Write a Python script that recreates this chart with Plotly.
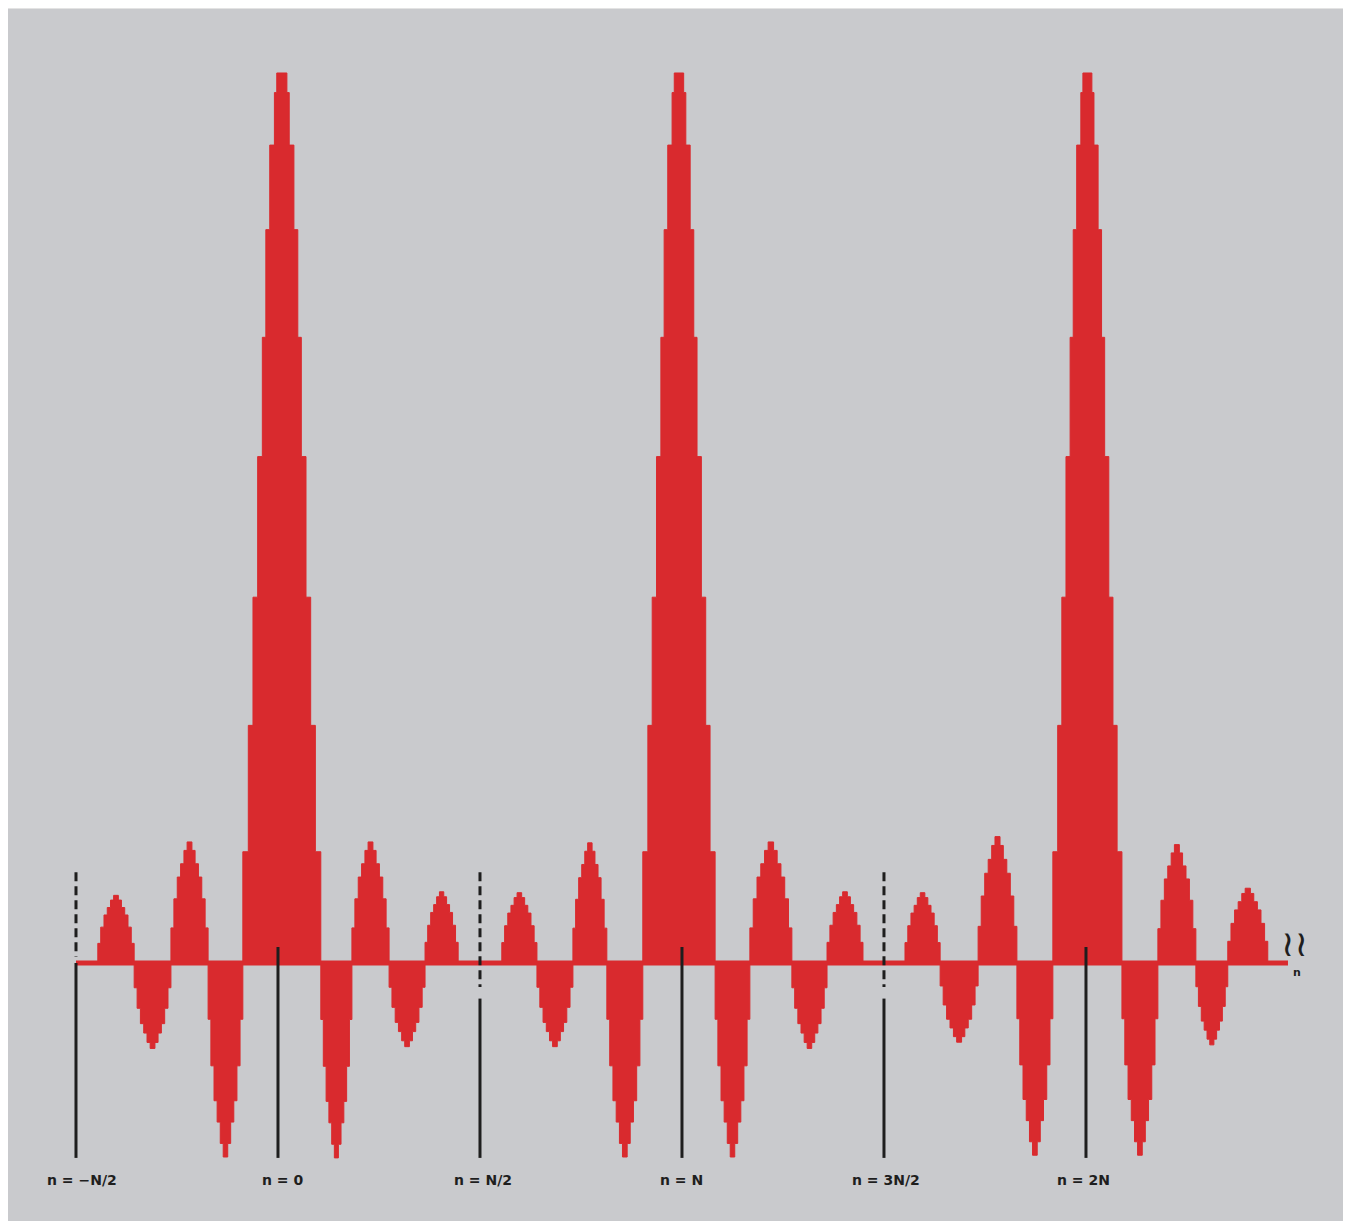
import plotly.graph_objects as go

# Lobes of the periodic (Dirichlet-like) sequence, left to right.
# Zero crossings in units of N, signed peak value (main lobe = 1)
lobe_left = [-0.446, -0.356, -0.265, -0.173, -0.087, 0.106, 0.183, 0.275, 0.364,
             0.554, 0.641, 0.730, 0.814, 0.903, 1.082, 1.168, 1.272, 1.359,
             1.552, 1.639, 1.733, 1.829, 1.918, 2.089, 2.178, 2.272, 2.351]
lobe_right = [-0.356, -0.265, -0.173, -0.087, 0.106, 0.183, 0.275, 0.364, 0.446,
              0.641, 0.730, 0.814, 0.903, 1.082, 1.168, 1.272, 1.359, 1.448,
              1.639, 1.733, 1.829, 1.918, 2.089, 2.178, 2.272, 2.351, 2.450]
lobe_peak = [0.076, -0.096, 0.136, -0.218, 1.0, -0.219, 0.136, -0.094, 0.080,
             0.079, -0.094, 0.135, -0.218, 1.0, -0.218, 0.136, -0.096, 0.080,
             0.079, -0.089, 0.142, -0.216, 1.0, -0.216, 0.133, -0.092, 0.084]

# stepped outline of a lobe: (height fraction, half-width fraction) per step
main_step_h = [0.125, 0.267, 0.411, 0.569, 0.703, 0.824, 0.919, 0.978, 1.0]
main_step_w = [1.0, 0.86, 0.74, 0.62, 0.50, 0.41, 0.31, 0.19, 0.13]
side_step_h = [0.29, 0.53, 0.71, 0.82, 0.93, 1.0]
side_step_w = [1.0, 0.84, 0.66, 0.48, 0.30, 0.13]

# marker lines
mark_n = [-0.5, 0.0, 0.5, 1.0, 1.5, 2.0]
mark_label = ["n = −N/2", "n = 0", "n = N/2", "n = N", "n = 3N/2", "n = 2N"]
mark_label_x = [-0.484, 0.012, 0.507, 1.0, 1.505, 1.993]
n_end = 2.5

RED = "#d92a2e"
INK = "#1e1e1e"
GRAY = "#c9cacd"


def stepped(l, r, amp, H, W):
    c = (l + r) / 2
    hw = (r - l) / 2
    left = []
    prev = 0.0
    for h, w in zip(H, W):
        x = c - hw * w
        left.append((x, prev * amp))
        left.append((x, h * amp))
        prev = h
    right = [(2 * c - x, y) for (x, y) in reversed(left)]
    pts = left + right
    return [p[0] for p in pts], [p[1] for p in pts]


xs, ys = [], []
for l, r, a in zip(lobe_left, lobe_right, lobe_peak):
    if abs(a) >= 0.99:
        px, py = stepped(l, r, a, main_step_h, main_step_w)
    else:
        px, py = stepped(l, r, a, side_step_h, side_step_w)
    xs += px + [px[0], None]
    ys += py + [py[0], None]

fig = go.Figure()
fig.add_trace(go.Scatter(x=xs, y=ys, mode="lines", fill="toself",
                         fillcolor=RED, line=dict(color=RED, width=1),
                         hoverinfo="skip"))

# baseline
fig.add_trace(go.Scatter(x=[mark_n[0], n_end], y=[0, 0], mode="lines",
                         line=dict(color=RED, width=5), hoverinfo="skip"))

# vertical marker lines
for i, n in enumerate(mark_n):
    if i % 2 == 0:
        # half-period markers: dashed above, solid below
        top_dash = 0.102
        if i == 0:
            fig.add_trace(go.Scatter(x=[n, n], y=[top_dash, 0.007], mode="lines",
                                     line=dict(color=INK, width=3, dash="9px,5px")))
            fig.add_trace(go.Scatter(x=[n, n], y=[0.0, -0.219], mode="lines",
                                     line=dict(color=INK, width=3)))
        else:
            fig.add_trace(go.Scatter(x=[n, n], y=[top_dash, -0.027], mode="lines",
                                     line=dict(color=INK, width=3, dash="9px,5px")))
            fig.add_trace(go.Scatter(x=[n, n], y=[-0.040, -0.219], mode="lines",
                                     line=dict(color=INK, width=3)))
    else:
        fig.add_trace(go.Scatter(x=[n, n], y=[0.018, -0.219], mode="lines",
                                 line=dict(color=INK, width=3)))

for lx, lab in zip(mark_label_x, mark_label):
    fig.add_annotation(x=lx, y=-0.244, text="<b>" + lab + "</b>", showarrow=False,
                       font=dict(family="DejaVu Sans", size=14, color=INK))

# break mark and axis name at the right end
fig.add_annotation(x=2.515, y=0.022, text="≀≀", showarrow=False,
                   font=dict(family="DejaVu Sans", size=36, color=INK))
fig.add_annotation(x=2.522, y=-0.011, text="<b>n</b>", showarrow=False,
                   font=dict(family="DejaVu Sans", size=11, color=INK))

# page body has an 8px margin, so the figure is sized to fit the window
fig.update_layout(
    width=1343, height=1213,
    margin=dict(l=0, r=0, t=1, b=0),
    paper_bgcolor="#e3e3e3", plot_bgcolor=GRAY,
    showlegend=False,
    xaxis=dict(range=[-0.6683, 2.656], visible=False, fixedrange=True),
    yaxis=dict(range=[-0.2899, 1.0719], visible=False, fixedrange=True),
)

fig.write_html("out.html")
